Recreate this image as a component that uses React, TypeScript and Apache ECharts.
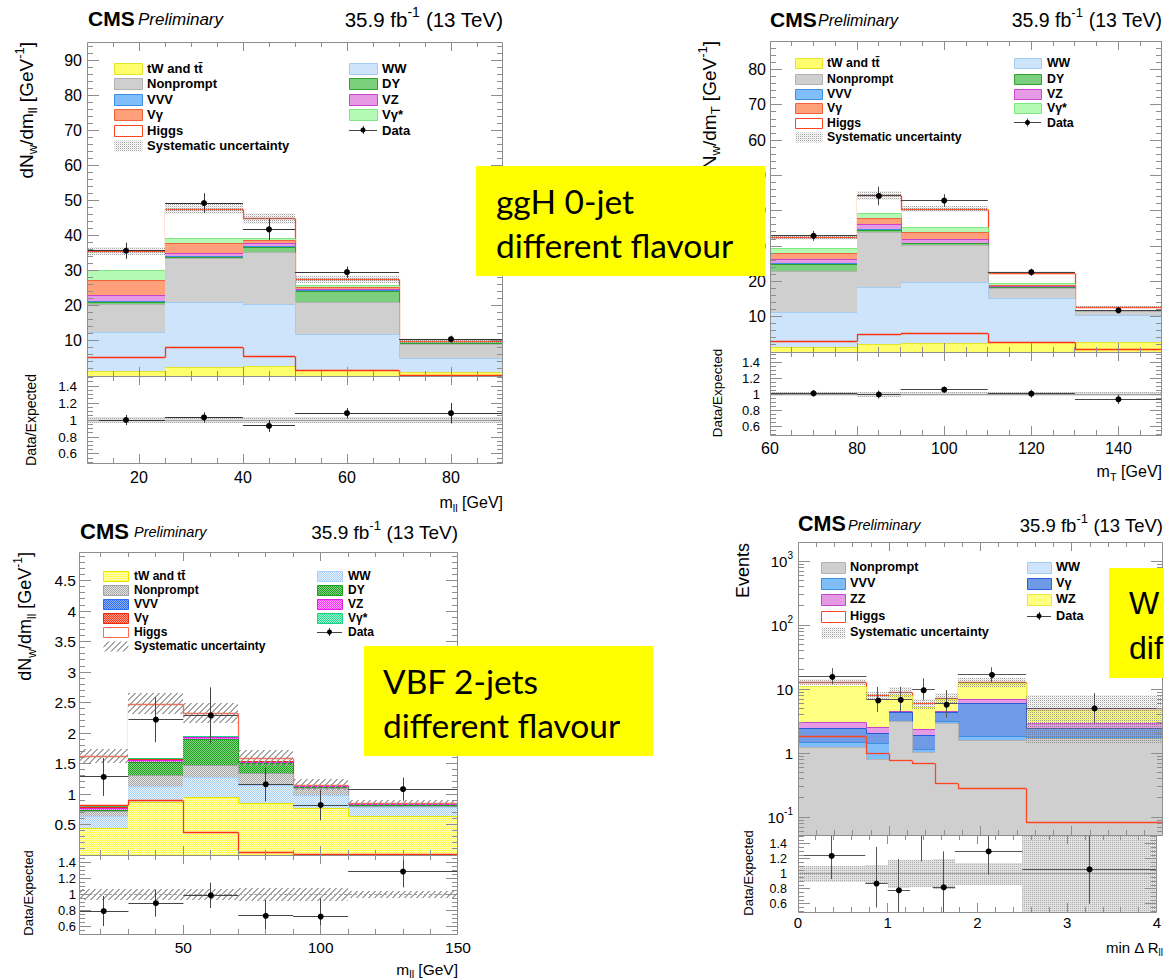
import React, { useEffect, useRef } from "react";
import * as echarts from "echarts";

const FONT = '"Liberation Sans", Arial, Helvetica, sans-serif';
const BOX_FONT = 'Lato, "Open Sans", sans-serif';

/* ---------------- Panel 1 : ggH 0-jet, m_ll ---------------- */
const p1Edges = [10, 25, 40, 50, 70, 90];
const p1TW = [1.5, 2.6, 2.8, 1.7, 1.0];
const p1WW = [11.0, 18.4, 17.7, 10.3, 4.1];
const p1Nonprompt = [7.9, 12.6, 14.8, 9.0, 4.0];
const p1DY = [0.8, 0.4, 1.5, 3.2, 0.2];
const p1VVV = [0.3, 0.3, 0.2, 0.2, 0.05];
const p1VZ = [1.5, 0.8, 0.9, 0.5, 0.1];
const p1Vg = [4.3, 2.8, 0.8, 0.4, 0.05];
const p1VgStar = [2.9, 1.4, 0.5, 0.6, 0.05];
const p1Higgs = [5.4, 8.3, 5.7, 1.7, 0.3];
const p1Data = [35.7, 49.3, 41.8, 29.6, 10.5];
const p1DataErr = [2.3, 2.8, 3.0, 1.6, 1.0];
const p1Ratio = [1.0, 1.03, 0.93, 1.08, 1.08];
const p1RatioErr = [0.06, 0.06, 0.07, 0.06, 0.12];
const p1SysRel = [0.035, 0.032, 0.032, 0.035, 0.04];

/* ---------------- Panel 2 : ggH 0-jet, m_T ---------------- */
const p2Edges = [60, 80, 90, 110, 130, 150];
const p2TW = [1.4, 2.2, 2.6, 2.7, 2.7];
const p2WW = [9.9, 16.2, 17.2, 12.5, 7.7];
const p2Nonprompt = [11.6, 15.5, 10.6, 2.8, 1.2];
const p2DY = [2.1, 0.7, 0.4, 0.3, 0.1];
const p2VVV = [0.2, 0.2, 0.2, 0.1, 0.05];
const p2VZ = [1.1, 1.5, 1.0, 0.4, 0.1];
const p2Vg = [1.7, 1.7, 2.1, 0.3, 0.05];
const p2VgStar = [1.4, 1.4, 1.2, 0.5, 0.05];
const p2Higgs = [3.1, 5.0, 5.3, 2.9, 0.9];
const p2Data = [32.9, 44.2, 42.9, 22.6, 11.8];
const p2DataErr = [1.4, 2.6, 1.8, 1.0, 0.8];
const p2Ratio = [1.01, 0.995, 1.055, 1.005, 0.935];
const p2RatioErr = [0.04, 0.05, 0.04, 0.05, 0.06];
const p2SysRel = [0.02, 0.03, 0.02, 0.02, 0.025];

/* ---------------- Panel 3 : VBF 2-jets, m_ll ---------------- */
const p3Edges = [12, 30, 50, 70, 90, 110, 150];
const p3TW = [0.44, 0.87, 0.95, 0.85, 0.77, 0.64];
const p3WW = [0.2, 0.26, 0.33, 0.3, 0.21, 0.15];
const p3Nonprompt = [0.08, 0.18, 0.19, 0.2, 0.12, 0.02];
const p3DY = [0.02, 0.21, 0.43, 0.16, 0.01, 0.005];
const p3VVV = [0.005, 0.005, 0.005, 0.005, 0.005, 0.005];
const p3VZ = [0.025, 0.035, 0.025, 0.015, 0.01, 0.01];
const p3Vg = [0.02, 0.02, 0.01, 0.01, 0.005, 0.005];
const p3VgStar = [0.01, 0.005, 0.005, 0.005, 0.005, 0.005];
const p3Higgs = [0.82, 0.9, 0.38, 0.05, 0.02, 0.02];
const p3Data = [1.28, 2.22, 2.29, 1.16, 0.82, 1.08];
const p3DataErr = [0.31, 0.37, 0.46, 0.28, 0.25, 0.19];
const p3Ratio = [0.79, 0.89, 0.99, 0.73, 0.72, 1.29];
const p3RatioErr = [0.19, 0.17, 0.16, 0.2, 0.23, 0.2];
const p3SysRel = [0.07, 0.07, 0.07, 0.08, 0.08, 0.05];

/* ---------------- Panel 4 : min Delta R_ll (log) ---------------- */
const p4Edges = [0, 0.75, 1, 1.25, 1.5, 1.75, 2.5, 4];
const p4Nonprompt = [1.24, 0.8, 3.16, 1.03, 2.94, 1.6, 1.7];
const p4VVV = [0.25, 0.63, 0.04, 0.12, 0.22, 0.25, 0.07];
const p4Vg = [0.97, 0.62, 1.2, 0.76, 1.21, 4.15, 0.69];
const p4ZZ = [0.59, 0.5, 0.2, 0.46, 0.23, 1.0, 0.48];
const p4WW = [0.03, 0.02, 0.02, 0.02, 0.02, 0.03, 0.02];
const p4WZ = [8.0, 4.43, 3.6, 2.91, 2.4, 5.57, 1.76];
const p4Higgs = [1.84, 1.0, 0.78, 0.7, 0.34, 0.29, 0.083];
const p4Data = [16, 7, 7, 10, 6, 17.2, 5.0];
const p4DataHi = [21.3, 10.8, 10.9, 14.8, 9.7, 22, 8.7];
const p4DataLo = [12, 4.4, 4.4, 6.7, 3.6, 12.9, 2.9];
const p4Ratio = [1.24, 0.87, 0.78, 1.67, 0.82, 1.3, 1.06];
const p4RatioHi = [1.6, 1.36, 1.2, 2.4, 1.3, 1.65, 1.55];
const p4RatioLo = [0.93, 0.55, 0.35, 1.17, 0.3, 0.99, 0.6];
const p4SysRel = [0.11, 0.12, 0.19, 0.18, 0.2, 0.15, 0.7];

/* ---------------- tick labels ---------------- */
const p1XLabels = [20, 40, 60, 80];
const p1YLabels = [10, 20, 30, 40, 50, 60, 70, 80, 90];
const p2XLabels = [60, 80, 100, 120, 140];
const p2YLabels = [10, 20, 30, 40, 50, 60, 70, 80];
const p3XLabels = [50, 100, 150];
const p3YLabels = [0.5, 1, 1.5, 2, 2.5, 3, 3.5, 4, 4.5];
const p4XLabels = [0, 1, 2, 3, 4];
const p4YLabels = [0.1, 1, 10, 100, 1000];
const ratioLabels = [0.6, 0.8, 1, 1.2, 1.4];

const TT = "tW and tt\u0304";

function steps(a: number, b: number, s: number) {
  const out: number[] = [];
  for (let v = a; v <= b + 1e-9; v += s) out.push(Math.round(v * 1e6) / 1e6);
  return out;
}
function logMinor(min: number, max: number) {
  const out: number[] = [];
  for (let d = -3; d <= 4; d++)
    for (let m = 2; m <= 9; m++) {
      const v = m * Math.pow(10, d);
      if (v > min && v < max) out.push(v);
    }
  return out;
}
const snap = (v: number) => Math.floor(v) + 0.5;

function stackSeries(g: number, P: any) {
  const n = P.edges.length - 1;
  const base = P.log ? P.yMin : 0;
  const cum: number[][] = [];
  let run = new Array(n).fill(0);
  P.procs.forEach((pr: any) => {
    run = run.map((r: number, i: number) => r + pr.values[i]);
    cum.push(run);
  });
  const items: number[][] = [];
  const meta: number[][] = [];
  for (let p = P.procs.length - 1; p >= 0; p--) {
    for (let i = 0; i < n; i++) {
      items.push([P.edges[i], P.edges[i + 1], p === 0 ? base : cum[p - 1][i], cum[p][i]]);
      meta.push([p, i]);
    }
  }
  return {
    type: "custom", coordinateSystem: "cartesian2d", xAxisIndex: g, yAxisIndex: g,
    silent: true, clip: true, z: 2, encode: { x: [0, 1], y: [2, 3] }, data: items,
    renderItem: (params: any, api: any) => {
      const [p, i] = meta[params.dataIndex];
      const pr = P.procs[p];
      const it = items[params.dataIndex];
      const a = api.coord([it[0], it[2]]);
      const b = api.coord([it[1], it[3]]);
      const x0 = Math.round(a[0]), x1 = Math.round(b[0]);
      const yb = Math.round(a[1]), yt = Math.round(b[1]);
      const lw = pr.lw || 1;
      const children: any[] = [
        { type: "rect", shape: { x: x0, y: yt, width: x1 - x0, height: Math.max(0, yb - yt) }, style: { fill: pr.fill, lineWidth: 0 } },
        { type: "line", shape: { x1: x0, y1: yt + 0.5, x2: x1, y2: yt + 0.5 }, style: { stroke: pr.stroke, lineWidth: lw } },
      ];
      if (i < n - 1) {
        const yn = Math.round(api.coord([it[1], cum[p][i + 1]])[1]);
        children.push({ type: "line", shape: { x1: x1 + 0.5, y1: yt + 0.5, x2: x1 + 0.5, y2: yn + 0.5 }, style: { stroke: pr.stroke, lineWidth: lw } });
      }
      return { type: "group", children };
    },
  };
}

function stepSeries(g: number, P: any, values: number[], color: string, lw: number) {
  const n = P.edges.length - 1;
  const items = values.map((v, i) => [P.edges[i], P.edges[i + 1], v]);
  return {
    type: "custom", coordinateSystem: "cartesian2d", xAxisIndex: g, yAxisIndex: g,
    silent: true, clip: true, z: 3, encode: { x: [0, 1], y: 2 }, data: items,
    renderItem: (params: any, api: any) => {
      const i = params.dataIndex;
      const it = items[i];
      const a = api.coord([it[0], it[2]]);
      const b = api.coord([it[1], it[2]]);
      const y = Math.round(a[1]) + 0.5;
      const ch: any[] = [{ type: "line", shape: { x1: Math.round(a[0]), y1: y, x2: Math.round(b[0]), y2: y }, style: { stroke: color, lineWidth: lw } }];
      if (i < n - 1) {
        const yn = Math.round(api.coord([it[1], values[i + 1]])[1]) + 0.5;
        const x = Math.round(b[0]) + 0.5;
        ch.push({ type: "line", shape: { x1: x, y1: y, x2: x, y2: yn }, style: { stroke: color, lineWidth: lw } });
      }
      return { type: "group", children: ch };
    },
  };
}

function bandSeries(g: number, P: any, isRatio: boolean) {
  const n = P.edges.length - 1;
  const tot = new Array(n).fill(0);
  P.procs.forEach((pr: any) => pr.values.forEach((v: number, i: number) => (tot[i] += v)));
  const items = P.sysRel.map((r: number, i: number) =>
    isRatio ? [P.edges[i], P.edges[i + 1], 1 - r, 1 + r] : [P.edges[i], P.edges[i + 1], tot[i] * (1 - r), tot[i] * (1 + r)]
  );
  return {
    type: "custom", coordinateSystem: "cartesian2d", xAxisIndex: g, yAxisIndex: g,
    silent: true, clip: true, z: 3, encode: { x: [0, 1], y: [2, 3] }, data: items,
    renderItem: (params: any, api: any) => {
      const it = items[params.dataIndex];
      const a = api.coord([it[0], Math.max(it[2], isRatio ? P.rMin : P.log ? P.yMin : 0)]);
      const b = api.coord([it[1], it[3]]);
      const x0 = Math.round(a[0]), x1 = Math.round(b[0]);
      return { type: "rect", shape: { x: x0, y: Math.round(b[1]), width: x1 - x0, height: Math.round(a[1]) - Math.round(b[1]) }, style: { fill: isRatio ? P.sysFillRatio : P.sysFill, lineWidth: 0 } };
    },
  };
}

function unitySeries(g: number, P: any) {
  return {
    type: "custom", coordinateSystem: "cartesian2d", xAxisIndex: g, yAxisIndex: g,
    silent: true, clip: true, z: 3, data: [[P.xMin, 1]],
    renderItem: (params: any, api: any) => {
      const a = api.coord([P.xMin, 1]);
      const b = api.coord([P.xMax, 1]);
      return { type: "line", shape: { x1: a[0], y1: snap(a[1]), x2: b[0], y2: snap(b[1]) }, style: { stroke: "#a0a0a0", lineWidth: 1, lineDash: P.unityDash } };
    },
  };
}

function pointsSeries(g: number, P: any, isRatio: boolean) {
  const ys: number[] = isRatio ? P.ratio : P.data;
  const lo: number[] = isRatio ? P.ratioLo : P.dataLo;
  const hi: number[] = isRatio ? P.ratioHi : P.dataHi;
  const items = ys.map((y, i) => [(P.edges[i] + P.edges[i + 1]) / 2, y]);
  return {
    type: "custom", coordinateSystem: "cartesian2d", xAxisIndex: g, yAxisIndex: g,
    silent: true, clip: true, z: 4, data: items,
    renderItem: (params: any, api: any) => {
      const i = params.dataIndex;
      const c = api.coord(items[i]);
      const l = api.coord([P.edges[i], ys[i]]);
      const r = api.coord([P.edges[i + 1], ys[i]]);
      const t = api.coord([items[i][0], hi[i]]);
      const b = api.coord([items[i][0], lo[i]]);
      const st = { stroke: P.errColor, lineWidth: 1 };
      return {
        type: "group",
        children: [
          { type: "line", shape: { x1: l[0], y1: snap(c[1]), x2: r[0], y2: snap(c[1]) }, style: st },
          { type: "line", shape: { x1: snap(c[0]), y1: t[1], x2: snap(c[0]), y2: b[1] }, style: st },
          { type: "circle", shape: { cx: c[0], cy: c[1], r: 3 }, style: { fill: "#000" } },
        ],
      };
    },
  };
}

function frameSeries(g: number, P: any, isRatio: boolean) {
  const yMaj: number[] = isRatio ? ratioLabels : P.yLabels;
  const yMin: number[] = isRatio ? steps(0.5, 1.5, 0.05) : P.yMinor;
  const ay = isRatio ? 1 : P.log ? 1 : P.yMin;
  const rMin = isRatio ? P.rMin : P.yMin;
  const rMax = isRatio ? P.rMax : P.yMax;
  return {
    type: "custom", coordinateSystem: "cartesian2d", xAxisIndex: g, yAxisIndex: g,
    silent: true, clip: false, z: 6, data: [[P.xMin, ay]],
    renderItem: (params: any, api: any) => {
      const cs = params.coordSys;
      const L = cs.x, T = cs.y, R = cs.x + cs.width, B = cs.y + cs.height;
      const st = { stroke: "#8e8e8e", lineWidth: 1 };
      const ch: any[] = [];
      const vt = (v: number, len: number) => {
        if (v <= P.xMin || v >= P.xMax) return;
        const x = snap(api.coord([v, ay])[0]);
        ch.push({ type: "line", shape: { x1: x, y1: B, x2: x, y2: B - len }, style: st });
        ch.push({ type: "line", shape: { x1: x, y1: T, x2: x, y2: T + len }, style: st });
      };
      const ht = (v: number, len: number) => {
        if (v <= rMin || v >= rMax) return;
        const y = snap(api.coord([P.xMin, v])[1]);
        ch.push({ type: "line", shape: { x1: L, y1: y, x2: L + len, y2: y }, style: st });
        ch.push({ type: "line", shape: { x1: R, y1: y, x2: R - len, y2: y }, style: st });
      };
      P.xMinor.forEach((v: number) => vt(v, 5));
      P.xLabels.forEach((v: number) => vt(v, 9));
      yMin.forEach((v: number) => ht(v, 6));
      yMaj.forEach((v: number) => ht(v, 12));
      ch.push({ type: "rect", shape: { x: snap(L), y: snap(T), width: Math.round(R - L) - 1, height: Math.round(B - T) }, style: { fill: "none", stroke: "#8e8e8e", lineWidth: 1 } });
      return { type: "group", children: ch };
    },
  };
}

const fmtRatio = (v: number) => (Math.abs(v - 1) < 1e-9 ? "1" : v.toFixed(1));
const fmtLog = (v: number) => {
  const e = Math.round(Math.log10(v));
  if (e === 0) return "1";
  if (e === 1) return "10";
  return "10{sup|" + e + "}";
};

function fontStr(size: number, weight?: string, style?: string, family?: string) {
  return [style || "", weight || "", size + "px", family || FONT].filter((s) => s).join(" ");
}
function richSS(size: number) {
  return {
    sub: { font: fontStr(Math.round(size * 0.68)), lineHeight: size * 0.9, verticalAlign: "bottom" },
    sup: { font: fontStr(Math.round(size * 0.68)), lineHeight: size * 0.75, verticalAlign: "top" },
  };
}
function txt(x: number, y: number, text: string, size: number, o: any = {}) {
  const align = o.align || "left";
  return {
    type: "text", z: o.z || 100, x, y, rotation: o.rot || 0,
    style: {
      text, font: fontStr(size, o.weight, o.style, o.family), fill: "#000",
      align, verticalAlign: "middle", textAlign: align, textVerticalAlign: "middle",
      rich: o.rich ? richSS(size) : undefined, lineHeight: o.rich ? size * 1.4 : undefined,
    },
  };
}

function legendEls(L: any, entries: any[]) {
  const els: any[] = [];
  entries.forEach((e) => {
    const bx = L.boxX[e.col], tx = L.textX[e.col], y = L.rows[e.row];
    if (e.data) {
      const cx = bx + L.w / 2;
      els.push({ type: "line", z: 100, shape: { x1: bx, y1: snap(y), x2: bx + L.w, y2: snap(y) }, style: { stroke: "#444", lineWidth: 1 } });
      els.push({ type: "line", z: 100, shape: { x1: snap(cx), y1: y - 4, x2: snap(cx), y2: y + 4 }, style: { stroke: "#444", lineWidth: 1 } });
      els.push({ type: "circle", z: 100, shape: { cx, cy: y, r: 2.5 }, style: { fill: "#000" } });
    } else {
      els.push({ type: "rect", z: 100, shape: { x: bx + 0.5, y: Math.round(y - L.h / 2) + 0.5, width: L.w, height: L.h }, style: { fill: e.fill, stroke: e.stroke, lineWidth: 1 } });
    }
    els.push(txt(tx, y, e.label, L.size, { weight: "bold" }));
  });
  return els;
}

function buildOption() {
  const mkPat = (w: number, h: number, paint: (ctx: CanvasRenderingContext2D) => void) => {
    const c = document.createElement("canvas");
    c.width = w;
    c.height = h;
    const ctx = c.getContext("2d");
    if (ctx) paint(ctx);
    return { image: c.toDataURL("image/png"), repeat: "repeat", imageWidth: w, imageHeight: h };
  };
  const checker = (c1: string, c2: string) =>
    mkPat(2, 2, (ctx) => {
      ctx.fillStyle = c2; ctx.fillRect(0, 0, 2, 2);
      ctx.fillStyle = c1; ctx.fillRect(0, 0, 1, 1); ctx.fillRect(1, 1, 1, 1);
    });
  const dotsPat = mkPat(2, 2, (ctx) => {
    ctx.fillStyle = "rgba(120,120,120,0.7)"; ctx.fillRect(0, 0, 1, 1);
    ctx.fillStyle = "rgba(190,190,190,0.45)"; ctx.fillRect(1, 1, 1, 1);
  });
  const dotsRatio = mkPat(2, 2, (ctx) => {
    ctx.fillStyle = "rgba(205,205,205,0.6)"; ctx.fillRect(0, 0, 2, 2);
    ctx.fillStyle = "rgba(140,140,140,0.6)"; ctx.fillRect(0, 0, 1, 1);
  });
  const diagPat = mkPat(6, 6, (ctx) => {
    ctx.fillStyle = "rgba(150,150,150,0.85)";
    for (let i = 0; i < 6; i++) { ctx.fillRect(i, 5 - i, 1, 1); ctx.fillRect((i + 1) % 6, 5 - i, 1, 1); }
  });

  const C = {
    tw: { fill: "#ffff6e", stroke: "#e3e32a" },
    ww: { fill: "#cde4fa", stroke: "#a6cbf0" },
    np: { fill: "#cfcfcf", stroke: "#b2b2b2" },
    dy: { fill: "#7ccf7c", stroke: "#2f9f2f" },
    vvv: { fill: "#80bdfb", stroke: "#3f8fe0" },
    vz: { fill: "#e69ae6", stroke: "#c844c8" },
    vg: { fill: "#ffa07a", stroke: "#f0643c" },
    vgs: { fill: "#b4fab4", stroke: "#80e680" },
    higgs: { fill: "#ffffff", stroke: "#ff4422", lw: 1.3 },
    vgBlue: { fill: "#6f9ae6", stroke: "#2a5bd7" },
    wz: { fill: "#ffff80", stroke: "#e8e840" },
  };
  const H = {
    tw: { fill: checker("#ffff4a", "#ffffc4"), stroke: "#e6e600" },
    ww: { fill: checker("#a8d0f8", "#e8f3fd"), stroke: "#a8d0f8" },
    np: { fill: checker("#a8a8a8", "#e2e2e2"), stroke: "#a0a0a0" },
    dy: { fill: checker("#1e9e1e", "#86d686"), stroke: "#1e9e1e" },
    vvv: { fill: checker("#2c6cf0", "#90b0f8"), stroke: "#2c6cf0" },
    vz: { fill: checker("#ff30ff", "#ffa8ff"), stroke: "#e020e0" },
    vg: { fill: checker("#ff3a1a", "#ffa090"), stroke: "#ee2a10" },
    vgs: { fill: checker("#20e090", "#a8f5d4"), stroke: "#20d080" },
    higgs: { fill: "#ffffff", stroke: "#ff6a4d", lw: 1.3 },
  };

  const mk = (v: number[], s: any) => ({ values: v, ...s });
  const pm = (d: number[], e: number[], sgn: number) => d.map((x, i) => x + sgn * e[i]);

  const panels: any[] = [
    {
      edges: p1Edges,
      procs: [mk(p1TW, C.tw), mk(p1WW, C.ww), mk(p1Nonprompt, C.np), mk(p1DY, C.dy), mk(p1VVV, C.vvv), mk(p1VZ, C.vz), mk(p1Vg, C.vg), mk(p1VgStar, C.vgs), mk(p1Higgs, C.higgs)],
      higgs: p1Higgs, higgsColor: "#ff3311",
      data: p1Data, dataLo: pm(p1Data, p1DataErr, -1), dataHi: pm(p1Data, p1DataErr, 1),
      ratio: p1Ratio, ratioLo: pm(p1Ratio, p1RatioErr, -1), ratioHi: pm(p1Ratio, p1RatioErr, 1),
      sysRel: p1SysRel, sysFill: dotsPat, sysFillRatio: dotsRatio, errColor: "#333",
      left: 87, top: 42, width: 416, mainH: 334, ratioH: 87,
      xMin: 10, xMax: 90, yMin: 0, yMax: 95.2, rMin: 0.494, rMax: 1.518,
      xLabels: p1XLabels, yLabels: p1YLabels, xMinor: steps(10, 90, 5), yMinor: steps(0, 94, 2), yFmt: (v: number) => String(v),
      yLS: 16, yLM: 5, rLS: 13.5, rLM: 10, xLS: 16, xLM: 6,
    },
    {
      edges: p2Edges,
      procs: [mk(p2TW, C.tw), mk(p2WW, C.ww), mk(p2Nonprompt, C.np), mk(p2DY, C.dy), mk(p2VVV, C.vvv), mk(p2VZ, C.vz), mk(p2Vg, C.vg), mk(p2VgStar, C.vgs), mk(p2Higgs, C.higgs)],
      higgs: p2Higgs, higgsColor: "#ff3311",
      data: p2Data, dataLo: pm(p2Data, p2DataErr, -1), dataHi: pm(p2Data, p2DataErr, 1),
      ratio: p2Ratio, ratioLo: pm(p2Ratio, p2RatioErr, -1), ratioHi: pm(p2Ratio, p2RatioErr, 1),
      sysRel: p2SysRel, sysFill: dotsPat, sysFillRatio: dotsRatio, errColor: "#444",
      left: 770, top: 41, width: 392, mainH: 311, ratioH: 83,
      xMin: 60, xMax: 150, yMin: 0, yMax: 88.1, rMin: 0.49, rMax: 1.525,
      xLabels: p2XLabels, yLabels: p2YLabels, xMinor: steps(60, 150, 5), yMinor: steps(0, 88, 2), yFmt: (v: number) => String(v),
      yLS: 16, yLM: 4, rLS: 13, rLM: 10, xLS: 16, xLM: 5,
    },
    {
      edges: p3Edges,
      procs: [mk(p3TW, H.tw), mk(p3WW, H.ww), mk(p3Nonprompt, H.np), mk(p3DY, H.dy), mk(p3VVV, H.vvv), mk(p3VZ, H.vz), mk(p3Vg, H.vg), mk(p3VgStar, H.vgs), mk(p3Higgs, H.higgs)],
      higgs: p3Higgs, higgsColor: "#ff3311",
      data: p3Data, dataLo: pm(p3Data, p3DataErr, -1), dataHi: pm(p3Data, p3DataErr, 1),
      ratio: p3Ratio, ratioLo: pm(p3Ratio, p3RatioErr, -1), ratioHi: pm(p3Ratio, p3RatioErr, 1),
      sysRel: p3SysRel, sysFill: diagPat, sysFillRatio: diagPat, errColor: "#444", unityDash: [3, 2],
      left: 79, top: 552, width: 379, mainH: 303, ratioH: 79,
      xMin: 12, xMax: 150, yMin: 0, yMax: 4.97, rMin: 0.5, rMax: 1.5,
      xLabels: p3XLabels, yLabels: p3YLabels, xMinor: steps(20, 140, 10), yMinor: steps(0, 4.9, 0.1), yFmt: (v: number) => String(v),
      yLS: 15.5, yLM: 3, rLS: 13, rLM: 3, xLS: 15.5, xLM: 5,
    },
    {
      edges: p4Edges, log: true,
      procs: [mk(p4Nonprompt, C.np), mk(p4VVV, C.vvv), mk(p4Vg, C.vgBlue), mk(p4ZZ, C.vz), mk(p4WW, C.ww), mk(p4WZ, C.wz), mk(p4Higgs, C.higgs)],
      higgs: p4Higgs, higgsColor: "#ff4422",
      data: p4Data, dataLo: p4DataLo, dataHi: p4DataHi,
      ratio: p4Ratio, ratioLo: p4RatioLo, ratioHi: p4RatioHi,
      sysRel: p4SysRel, sysFill: dotsPat, sysFillRatio: dotsRatio, errColor: "#555",
      left: 798, top: 542, width: 365, mainH: 293, ratioH: 77,
      xMin: 0, xMax: 4, yMin: 0.0525, yMax: 2000, rMin: 0.49, rMax: 1.52,
      xLabels: p4XLabels, yLabels: p4YLabels, xMinor: steps(0, 4, 0.2), yMinor: logMinor(0.0525, 2000), yFmt: fmtLog,
      yLS: 15, yLM: 5, rLS: 12.5, rLM: 11, xLS: 15, xLM: 3,
    },
  ];

  const grid: any[] = [];
  const xAxis: any[] = [];
  const yAxis: any[] = [];
  const series: any[] = [];
  const noAx = { axisLine: { show: false }, axisTick: { show: false }, splitLine: { show: false }, minorTick: { show: false }, minorSplitLine: { show: false } };

  panels.forEach((P, k) => {
    const gm = k * 2, gr = k * 2 + 1;
    grid.push({ left: P.left, top: P.top, width: P.width, height: P.mainH, show: false });
    grid.push({ left: P.left, top: P.top + P.mainH, width: P.width, height: P.ratioH, show: false });
    xAxis.push({ ...noAx, type: "value", gridIndex: gm, min: P.xMin, max: P.xMax, axisLabel: { show: false } });
    xAxis.push({
      ...noAx, type: "value", gridIndex: gr, min: P.xMin, max: P.xMax,
      axisLabel: { show: true, customValues: P.xLabels, formatter: (v: number) => String(v), fontSize: P.xLS, fontFamily: FONT, color: "#000", margin: P.xLM },
    });
    yAxis.push({
      ...noAx, type: P.log ? "log" : "value", logBase: 10, gridIndex: gm, min: P.yMin, max: P.yMax,
      axisLabel: {
        show: true, customValues: P.yLabels, formatter: P.yFmt, fontSize: P.yLS, fontFamily: FONT, color: "#000", margin: P.yLM,
        lineHeight: 22,
        rich: { sup: { fontSize: 10, lineHeight: 12, verticalAlign: "top", fontFamily: FONT, color: "#000" } },
      },
    });
    yAxis.push({
      ...noAx, type: "value", gridIndex: gr, min: P.rMin, max: P.rMax,
      axisLabel: { show: true, customValues: ratioLabels, formatter: fmtRatio, fontSize: P.rLS, fontFamily: FONT, color: "#000", margin: P.rLM },
    });
    series.push(stackSeries(gm, P));
    series.push(stepSeries(gm, P, P.higgs, P.higgsColor, 1.3));
    series.push(bandSeries(gm, P, false));
    series.push(pointsSeries(gm, P, false));
    series.push(frameSeries(gm, P, false));
    series.push(bandSeries(gr, P, true));
    series.push(unitySeries(gr, P));
    series.push(pointsSeries(gr, P, true));
    series.push(frameSeries(gr, P, true));
  });

  const g: any[] = [];
  const headers = [
    { cx: 88, cy: 18.5, cs: 21, px: 138, py: 19.5, ps: 17, lx: 503, ly: 19.5, ls: 20.5 },
    { cx: 770, cy: 19, cs: 21, px: 818, py: 20, ps: 16, lx: 1162, ly: 20, ls: 19.5 },
    { cx: 80, cy: 531, cs: 22, px: 134, py: 532, ps: 14.5, lx: 458, ly: 532, ls: 19 },
    { cx: 798, cy: 524, cs: 21.5, px: 848, py: 525, ps: 14.5, lx: 1163, ly: 525, ls: 18.5 },
  ];
  headers.forEach((h) => {
    g.push(txt(h.cx, h.cy, "CMS", h.cs, { weight: "bold" }));
    g.push(txt(h.px, h.py, "Preliminary", h.ps, { style: "italic" }));
    g.push(txt(h.lx, h.ly, "35.9 fb{sup|-1} (13 TeV)", h.ls, { align: "right", rich: true }));
  });
  const rot = Math.PI / 2;
  g.push(txt(26, 42, "dN{sub|w}/dm{sub|ll} [GeV{sup|-1}]", 19, { rot, align: "right", rich: true }));
  g.push(txt(709, 41, "dN{sub|w}/dm{sub|T} [GeV{sup|-1}]", 19, { rot, align: "right", rich: true }));
  g.push(txt(25, 552, "dN{sub|w}/dm{sub|ll} [GeV{sup|-1}]", 18, { rot, align: "right", rich: true }));
  g.push(txt(743, 543, "Events", 18, { rot, align: "right" }));
  g.push(txt(31, 420, "Data/Expected", 14, { rot, align: "center" }));
  g.push(txt(717, 393, "Data/Expected", 13.5, { rot, align: "center" }));
  g.push(txt(28, 893, "Data/Expected", 13, { rot, align: "center" }));
  g.push(txt(748, 873, "Data/Expected", 13, { rot, align: "center" }));
  g.push(txt(503, 502, "m{sub|ll} [GeV]", 16, { align: "right", rich: true }));
  g.push(txt(1162, 471, "m{sub|T} [GeV]", 16, { align: "right", rich: true }));
  g.push(txt(458, 969, "m{sub|ll} [GeV]", 15.5, { align: "right", rich: true }));
  g.push(txt(1163, 947, "min \u0394 R{sub|ll}", 15, { align: "right", rich: true }));

  const legA = (S: any, sys: any) => [
    { col: 0, row: 0, label: TT, fill: S.tw.fill, stroke: S.tw.stroke },
    { col: 0, row: 1, label: "Nonprompt", fill: S.np.fill, stroke: S.np.stroke },
    { col: 0, row: 2, label: "VVV", fill: S.vvv.fill, stroke: S.vvv.stroke },
    { col: 0, row: 3, label: "V\u03b3", fill: S.vg.fill, stroke: S.vg.stroke },
    { col: 0, row: 4, label: "Higgs", fill: "#fff", stroke: S.higgs.stroke },
    { col: 0, row: 5, label: "Systematic uncertainty", fill: sys, stroke: "rgba(0,0,0,0)" },
    { col: 1, row: 0, label: "WW", fill: S.ww.fill, stroke: S.ww.stroke },
    { col: 1, row: 1, label: "DY", fill: S.dy.fill, stroke: S.dy.stroke },
    { col: 1, row: 2, label: "VZ", fill: S.vz.fill, stroke: S.vz.stroke },
    { col: 1, row: 3, label: "V\u03b3*", fill: S.vgs.fill, stroke: S.vgs.stroke },
    { col: 1, row: 4, label: "Data", data: true },
  ];
  g.push(...legendEls({ boxX: [114, 349], textX: [147, 382], w: 28, h: 11, rows: [68, 83.5, 99, 114.5, 130, 145.5], size: 13 }, legA(C, dotsPat)));
  g.push(...legendEls({ boxX: [795, 1014], textX: [827, 1047], w: 27, h: 10, rows: [63, 78.5, 93.5, 108, 122.5, 137], size: 12.3 }, legA(C, dotsPat)));
  g.push(...legendEls({ boxX: [103, 317], textX: [134, 348], w: 25, h: 10, rows: [576, 590, 604, 618, 632, 646], size: 12 }, legA(H, diagPat)));
  g.push(
    ...legendEls({ boxX: [821, 1027], textX: [850, 1056], w: 24, h: 11, rows: [567, 583, 599, 616, 632], size: 12.7 }, [
      { col: 0, row: 0, label: "Nonprompt", fill: C.np.fill, stroke: C.np.stroke },
      { col: 0, row: 1, label: "VVV", fill: C.vvv.fill, stroke: C.vvv.stroke },
      { col: 0, row: 2, label: "ZZ", fill: C.vz.fill, stroke: C.vz.stroke },
      { col: 0, row: 3, label: "Higgs", fill: "#fff", stroke: C.higgs.stroke },
      { col: 0, row: 4, label: "Systematic uncertainty", fill: dotsPat, stroke: "rgba(0,0,0,0)" },
      { col: 1, row: 0, label: "WW", fill: C.ww.fill, stroke: C.ww.stroke },
      { col: 1, row: 1, label: "V\u03b3", fill: C.vgBlue.fill, stroke: C.vgBlue.stroke },
      { col: 1, row: 2, label: "WZ", fill: C.wz.fill, stroke: C.wz.stroke },
      { col: 1, row: 3, label: "Data", data: true },
    ])
  );

  const bs = 33.5;
  g.push({ type: "rect", z: 110, shape: { x: 476, y: 166, width: 289, height: 110 }, style: { fill: "#ffff00" } });
  g.push(txt(496, 213 - 0.36 * bs, "ggH 0-jet", bs, { family: BOX_FONT, z: 111 }));
  g.push(txt(496, 257 - 0.36 * bs, "different flavour", bs, { family: BOX_FONT, z: 111 }));
  g.push({ type: "rect", z: 110, shape: { x: 364, y: 646, width: 289, height: 110 }, style: { fill: "#ffff00" } });
  g.push(txt(383, 693 - 0.36 * bs, "VBF 2-jets", bs, { family: BOX_FONT, z: 111 }));
  g.push(txt(383, 737 - 0.36 * bs, "different flavour", bs, { family: BOX_FONT, z: 111 }));
  g.push({ type: "rect", z: 110, shape: { x: 1109, y: 568, width: 60, height: 110 }, style: { fill: "#ffff00" } });
  g.push(txt(1129, 615 - 0.36 * 32, "W", 32, { z: 111 }));
  g.push(txt(1129, 660 - 0.36 * 32, "dif", 32, { z: 111 }));

  return { animation: false, backgroundColor: "#ffffff", grid, xAxis, yAxis, series, graphic: { elements: g } };
}

export default function App() {
  const ref = useRef<HTMLDivElement>(null);
  useEffect(() => {
    if (!ref.current) return;
    const chart = echarts.init(ref.current, undefined, { renderer: "svg" });
    chart.setOption(buildOption() as any);
    return () => chart.dispose();
  }, []);
  return <div ref={ref} style={{ position: "absolute", left: 0, top: 0, width: 1164, height: 980 }} />;
}
